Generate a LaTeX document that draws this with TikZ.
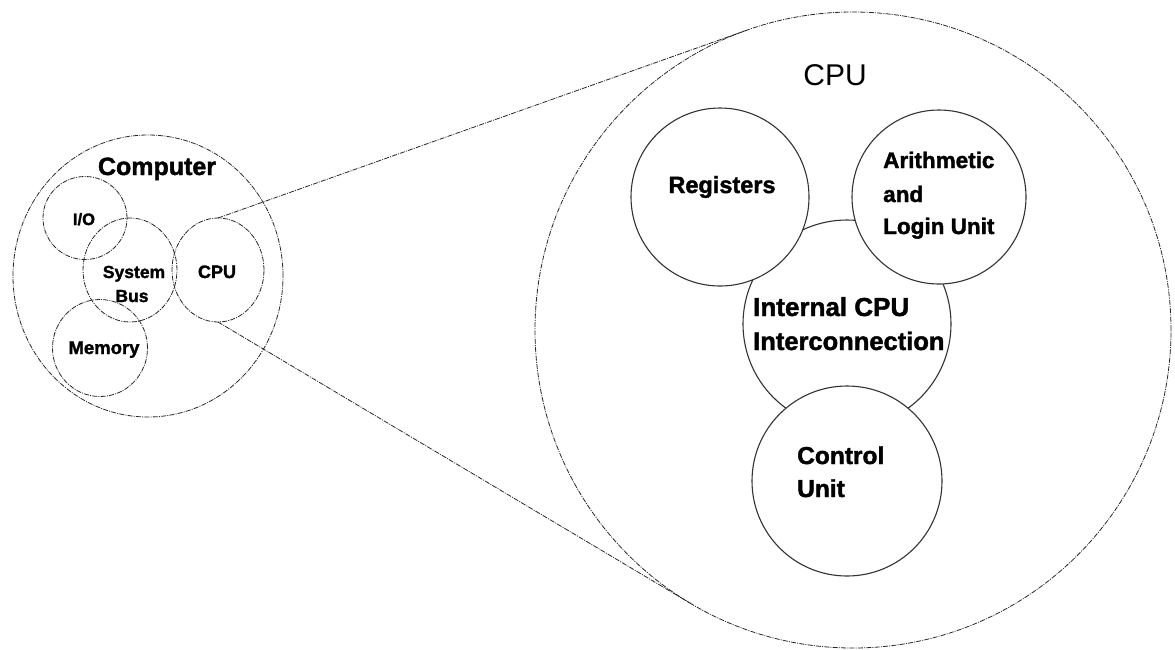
\documentclass[tikz,border=0pt]{standalone}
\usepackage{fontspec}
\setmainfont{Liberation Sans}[BoldFeatures={FakeBold=1.6}]
\usetikzlibrary{shapes.geometric}
\begin{document}
\begin{tikzpicture}[x=1pt,y=-1pt,
  dotline/.style={draw=black!85,line width=0.8pt,dash pattern=on 5pt off 1.2pt on 1pt off 1.2pt},
  oval/.style={ellipse,dotline,inner sep=0pt,outer sep=0pt},
  bigring/.style={circle,dotline,inner sep=0pt,outer sep=0pt},
  unit/.style={circle,draw=black!80,line width=1.1pt,fill=white,inner sep=0pt,outer sep=0pt},
  lbl/.style={inner sep=0pt,font=\bfseries},
]
\useasboundingbox (0,0) rectangle (1175,649);

% ---- the computer as a whole ----
\node[oval,minimum width=270pt,minimum height=282pt] (comp) at (148,276) {};
\node[oval,minimum width=84pt,minimum height=83pt] (io) at (85,218) {};
\node[oval,minimum width=94pt,minimum height=104pt] (bus) at (130,270) {};
\node[oval,minimum width=92pt,minimum height=104pt] (cpus) at (218,270) {};
\node[oval,minimum width=95pt,minimum height=97pt] (mem) at (100,348) {};

% ---- enlarged CPU ----
\node[bigring,minimum size=636pt] (cpubig) at (853,330) {};
\coordinate (tu) at (746.6,30.3);
\coordinate (tl) at (690.3,603.2);
\draw[dotline] (cpus.north) -- (tu);
\draw[dotline] (cpus.south) -- (tl);

\node[unit,minimum size=208pt] (icx) at (847,324) {};
\node[unit,minimum size=178pt] (reg) at (720,197) {};
\node[unit,minimum size=174pt] (alu) at (939,197) {};
\node[unit,minimum size=190pt] (ctl) at (847,481) {};

% ---- labels ----
\node[lbl,anchor=base,font=\bfseries\fontsize{25}{30}\selectfont] (tcomp) at (157,175) {Computer};
\node[lbl,anchor=base,font=\bfseries\fontsize{16.5}{20}\selectfont] (tio) at (84,225) {I/O};
\node[lbl,anchor=base,font=\bfseries\fontsize{17.5}{20}\selectfont] (tbus1) at (134,278) {System};
\node[lbl,anchor=base,font=\bfseries\fontsize{17.5}{20}\selectfont] (tbus2) at (132,302) {Bus};
\node[lbl,anchor=base,font=\bfseries\fontsize{18}{20}\selectfont] (tcpus) at (217,278) {CPU};
\node[lbl,anchor=base,font=\bfseries\fontsize{18.5}{20}\selectfont] (tmem) at (104,354) {Memory};

\node[inner sep=0pt,anchor=base,font=\fontsize{30}{34}\selectfont] (tcpu) at (835,85) {CPU};
\node[lbl,anchor=base,font=\bfseries\fontsize{23.5}{28}\selectfont] (treg) at (722,193) {Registers};
\node[lbl,anchor=base west,font=\bfseries\fontsize{22.5}{28}\selectfont] (talu1) at (883,168) {Arithmetic};
\node[lbl,anchor=base west,font=\bfseries\fontsize{22.5}{28}\selectfont] (talu2) at (883,202) {and};
\node[lbl,anchor=base west,font=\bfseries\fontsize{22.5}{28}\selectfont] (talu3) at (883,234) {Login Unit};
\node[lbl,anchor=base west,font=\bfseries\fontsize{26}{30}\selectfont] (ticx1) at (753,316) {Internal CPU};
\node[lbl,anchor=base west,font=\bfseries\fontsize{25.5}{30}\selectfont] (ticx2) at (753,350) {Interconnection};
\node[lbl,anchor=base west,font=\bfseries\fontsize{24.5}{30}\selectfont] (tctl1) at (797,464) {Control};
\node[lbl,anchor=base west,font=\bfseries\fontsize{24.5}{30}\selectfont] (tctl2) at (797,497) {Unit};
\end{tikzpicture}
\end{document}
